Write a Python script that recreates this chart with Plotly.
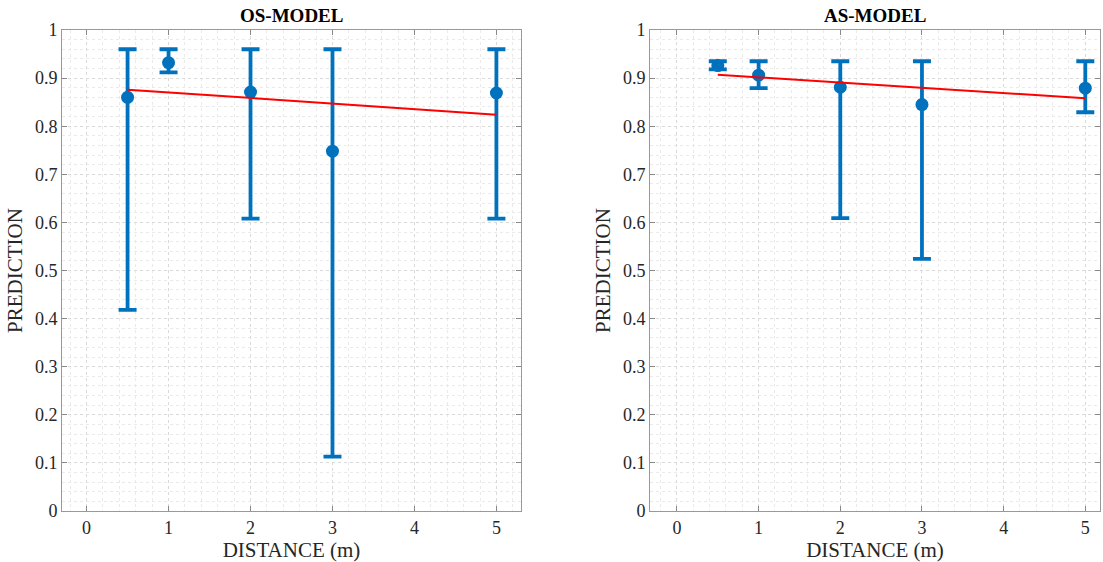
import plotly.graph_objects as go

# OS-MODEL data
os_x = [0.5, 1, 2, 3, 5]
os_y = [0.860, 0.932, 0.871, 0.748, 0.869]
os_upper = [0.960, 0.960, 0.960, 0.960, 0.960]
os_lower = [0.418, 0.912, 0.608, 0.113, 0.608]
os_fit_x = [0.5, 5]
os_fit_y = [0.876, 0.824]

# AS-MODEL data
as_x = [0.5, 1, 2, 3, 5]
as_y = [0.926, 0.906, 0.881, 0.845, 0.879]
as_upper = [0.935, 0.935, 0.935, 0.935, 0.935]
as_lower = [0.918, 0.879, 0.609, 0.524, 0.829]
as_fit_x = [0.5, 5]
as_fit_y = [0.907, 0.858]

x_ticks = [0, 1, 2, 3, 4, 5]
y_ticks = [0, 0.1, 0.2, 0.3, 0.4, 0.5, 0.6, 0.7, 0.8, 0.9, 1]
y_ticktext = ["0", "0.1", "0.2", "0.3", "0.4", "0.5", "0.6", "0.7", "0.8", "0.9", "1"]

BLUE = "#0072BD"
FONT = "Liberation Serif"

fig = go.Figure()

def add_panel(xs, ys, up, lo, fx, fy, xa, ya):
    fig.add_trace(go.Scatter(
        x=xs, y=ys, mode="markers", xaxis=xa, yaxis=ya,
        marker=dict(color=BLUE, size=13),
        error_y=dict(type="data", symmetric=False,
                     array=[u - y for u, y in zip(up, ys)],
                     arrayminus=[y - l for y, l in zip(ys, lo)],
                     color=BLUE, thickness=3.8, width=9),
        showlegend=False, hoverinfo="skip"))
    fig.add_trace(go.Scatter(
        x=fx, y=fy, mode="lines", xaxis=xa, yaxis=ya,
        line=dict(color="#FF0000", width=2),
        showlegend=False, hoverinfo="skip"))

add_panel(os_x, os_y, os_upper, os_lower, os_fit_x, os_fit_y, "x", "y")
add_panel(as_x, as_y, as_upper, as_lower, as_fit_x, as_fit_y, "x2", "y2")

def xaxis_cfg(dom, rng, anchor):
    return dict(domain=dom, range=rng, anchor=anchor,
                tickmode="array", tickvals=x_ticks,
                ticks="inside", ticklen=5, tickcolor="#888",
                showline=True, linecolor="#999", linewidth=1, mirror="allticks",
                showgrid=True, gridcolor="#d9d9d9", griddash="dot", gridwidth=1,
                minor=dict(dtick=0.2, showgrid=True, gridcolor="#eaeaea", griddash="dot", ticks=""),
                zeroline=False, automargin=False,
                tickfont=dict(family=FONT, size=18, color="#262626"),
                title=dict(text="DISTANCE (m)", font=dict(family=FONT, size=21, color="#262626"), standoff=4))

def yaxis_cfg(anchor):
    return dict(domain=[0, 1], range=[0, 1], anchor=anchor,
                tickmode="array", tickvals=y_ticks, ticktext=y_ticktext,
                ticks="inside", ticklen=5, tickcolor="#888",
                showline=True, linecolor="#999", linewidth=1, mirror="allticks",
                showgrid=True, gridcolor="#d9d9d9", griddash="dot", gridwidth=1,
                minor=dict(dtick=0.02, showgrid=True, gridcolor="#eaeaea", griddash="dot", ticks=""),
                zeroline=False, automargin=False,
                tickfont=dict(family=FONT, size=18, color="#262626"),
                title=dict(text="PREDICTION", font=dict(family=FONT, size=21, color="#262626"), standoff=6))

W, H = 1103, 562
fig.update_layout(
    width=W, height=H,
    paper_bgcolor="white", plot_bgcolor="white",
    margin=dict(l=0, r=0, t=30, b=51),
    xaxis=xaxis_cfg([62 / W, 521 / W], [-0.3, 5.3], "y"),
    yaxis=yaxis_cfg("x"),
    xaxis2=xaxis_cfg([650 / W, 1100 / W], [-0.33, 5.18], "y2"),
    yaxis2=yaxis_cfg("x2"),
    annotations=[
        dict(text="<b>OS-MODEL</b>", x=(62 + 521) / 2 / W, y=1, xref="paper", yref="paper",
             xanchor="center", yanchor="bottom", yshift=2, showarrow=False,
             font=dict(family=FONT, size=19, color="#000")),
        dict(text="<b>AS-MODEL</b>", x=(650 + 1100) / 2 / W, y=1, xref="paper", yref="paper",
             xanchor="center", yanchor="bottom", yshift=2, showarrow=False,
             font=dict(family=FONT, size=19, color="#000")),
    ],
)

fig.write_html("out.html",
               config={"displayModeBar": False},
               post_script="document.body.style.margin='0';document.body.style.overflow='hidden';")
